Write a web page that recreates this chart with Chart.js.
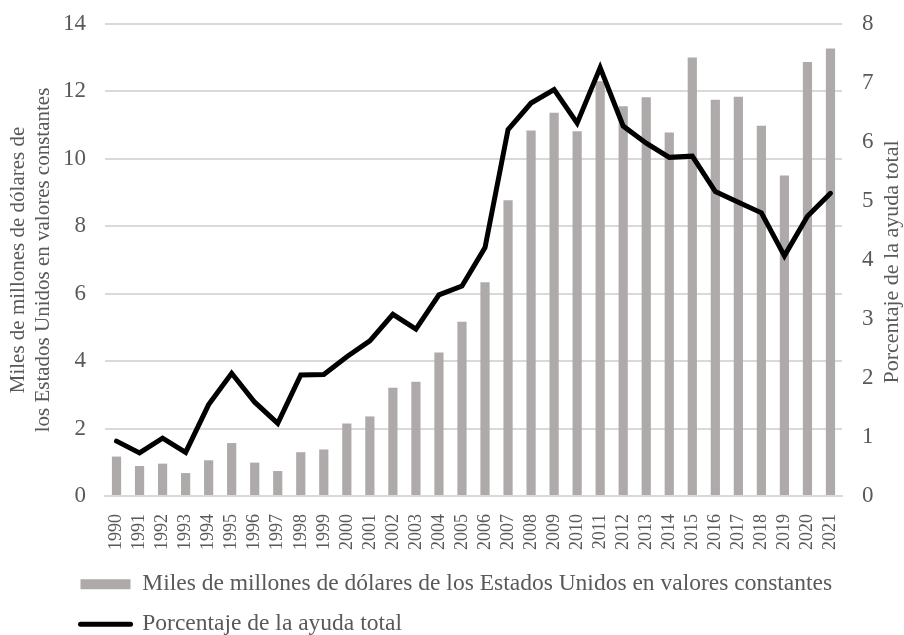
<!DOCTYPE html>
<html>
<head>
<meta charset="utf-8">
<script src="https://cdn.jsdelivr.net/npm/chart.js@4.4.1/dist/chart.umd.min.js"></script>
<style>
    html, body { margin: 0; padding: 0; background: #fff; }
    #wrap { width: 904px; height: 635px; }
</style>
</head>
<body>
<div id="wrap"><canvas id="myChart" width="904" height="635"></canvas></div>
<script>
var years = ["1990", "1991", "1992", "1993", "1994", "1995", "1996", "1997", "1998", "1999",
    "2000", "2001", "2002", "2003", "2004", "2005", "2006", "2007", "2008", "2009",
    "2010", "2011", "2012", "2013", "2014", "2015", "2016", "2017", "2018", "2019",
    "2020", "2021"];

// miles de millones de USD (eje izquierdo)
var data_dolares = [1.17, 0.89, 0.96, 0.68, 1.06, 1.57, 0.99, 0.74, 1.30, 1.38,
    2.15, 2.36, 3.21, 3.39, 4.26, 5.17, 6.34, 8.77, 10.84, 11.37,
    10.82, 12.3, 11.56, 11.83, 10.78, 13.01, 11.75, 11.84, 10.98, 9.51,
    12.87, 13.27];

// porcentaje de la ayuda total (eje derecho)
var data_porcentaje = [0.93, 0.73, 0.98, 0.74, 1.55, 2.08, 1.59, 1.23, 2.05, 2.06,
    2.36, 2.63, 3.08, 2.83, 3.41, 3.56, 4.21, 6.21, 6.66, 6.89,
    6.32, 7.26, 6.27, 5.98, 5.74, 5.76, 5.16, 4.98, 4.80, 4.07,
    4.74, 5.13];

var label_dolares = "Miles de millones de dólares de los Estados Unidos en valores constantes";
var label_porcentaje = "Porcentaje de la ayuda total";
var title_izq = ["Miles de millones de dólares de", "los Estados Unidos en valores constantes"];
var title_der = "Porcentaje de la ayuda total";

var fontName = "'Liberation Serif', 'Times New Roman', serif";
var textColor = "#595959";
var gridColor = "#d9d9d9";

// mueve la leyenda a la derecha, como en el original
var legendShift = {
    id: "legendShift",
    afterLayout: function (chart) {
        var lg = chart.legend;
        lg.left = lg.left + 64;
        lg.right = lg.right + 64;
    },
};

// titulo del eje derecho, leido de abajo hacia arriba
var rightTitle = {
    id: "rightTitle",
    afterDraw: function (chart) {
        var ctx = chart.ctx;
        var area = chart.chartArea;
        ctx.save();
        ctx.translate(892, (area.top + area.bottom) / 2 + 2);
        ctx.rotate(-Math.PI / 2);
        ctx.font = "22px " + fontName;
        ctx.fillStyle = textColor;
        ctx.textAlign = "center";
        ctx.textBaseline = "middle";
        ctx.fillText(title_der, 0, 0);
        ctx.restore();
    },
};

var ctx = document.getElementById("myChart").getContext("2d");

new Chart(ctx, {
    type: "bar",
    data: {
        labels: years,
        datasets: [
            {
                type: "bar",
                label: label_dolares,
                data: data_dolares,
                backgroundColor: "#aeaaaa",
                borderWidth: 0,
                barPercentage: 0.4,
                categoryPercentage: 1,
                yAxisID: "y",
                order: 1,
            },
            {
                type: "line",
                label: label_porcentaje,
                data: data_porcentaje,
                borderColor: "#000000",
                backgroundColor: "#000000",
                borderWidth: 5,
                pointRadius: 0,
                tension: 0,
                borderCapStyle: "round",
                borderJoinStyle: "miter",
                yAxisID: "y1",
                order: 0,
            },
        ],
    },
    options: {
        responsive: false,
        animation: false,
        devicePixelRatio: 1,
        layout: {
            padding: { top: 24, left: 0, right: 0, bottom: -11 },
        },
        plugins: {
            tooltip: { enabled: false },
            legend: {
                position: "bottom",
                align: "start",
                labels: {
                    font: { family: fontName, size: 23.5 },
                    color: textColor,
                    padding: 16.5,
                    usePointStyle: true,
                    pointStyleWidth: 50,
                    boxHeight: 10,
                    sort: function (a, b) {
                        return a.datasetIndex - b.datasetIndex;
                    },
                    generateLabels: function (chart) {
                        var items = Chart.defaults.plugins.legend.labels.generateLabels(chart);
                        items.forEach(function (it) {
                            if (it.datasetIndex === 0) {
                                it.pointStyle = "rect";
                                it.lineWidth = 0;
                                it.fillStyle = "#aeaaaa";
                            } else {
                                it.pointStyle = "line";
                                it.lineWidth = 5;
                                it.strokeStyle = "#000000";
                                it.lineCap = "round";
                            }
                        });
                        return items;
                    },
                },
            },
        },
        scales: {
            x: {
                grid: { display: false },
                border: { color: gridColor, width: 2 },
                ticks: {
                    font: { family: fontName, size: 18 },
                    color: textColor,
                    minRotation: 90,
                    maxRotation: 90,
                    autoSkip: false,
                    padding: 10,
                },
                afterFit: function (scale) {
                    scale.height = 60;
                },
            },
            y: {
                position: "left",
                min: 0,
                max: 14,
                border: { display: false },
                grid: { color: gridColor, lineWidth: 2, drawTicks: false },
                ticks: {
                    stepSize: 2,
                    font: { family: fontName, size: 23 },
                    color: textColor,
                    padding: 19,
                },
                title: {
                    display: true,
                    text: title_izq,
                    font: { family: fontName, size: 21, lineHeight: 1.2 },
                    color: textColor,
                    padding: { top: 6, bottom: 4 },
                },
                afterFit: function (scale) {
                    scale.width = 105;
                    scale.paddingTop = 0;
                    scale.paddingBottom = 0;
                },
            },
            y1: {
                position: "right",
                min: 0,
                max: 8,
                border: { display: false },
                grid: { display: false, drawTicks: false },
                ticks: {
                    stepSize: 1,
                    font: { family: fontName, size: 23 },
                    color: textColor,
                    padding: 20,
                },
                afterFit: function (scale) {
                    scale.width = 62;
                    scale.paddingTop = 0;
                    scale.paddingBottom = 0;
                },
            },
        },
    },
    plugins: [legendShift, rightTitle],
});
</script>
</body>
</html>
